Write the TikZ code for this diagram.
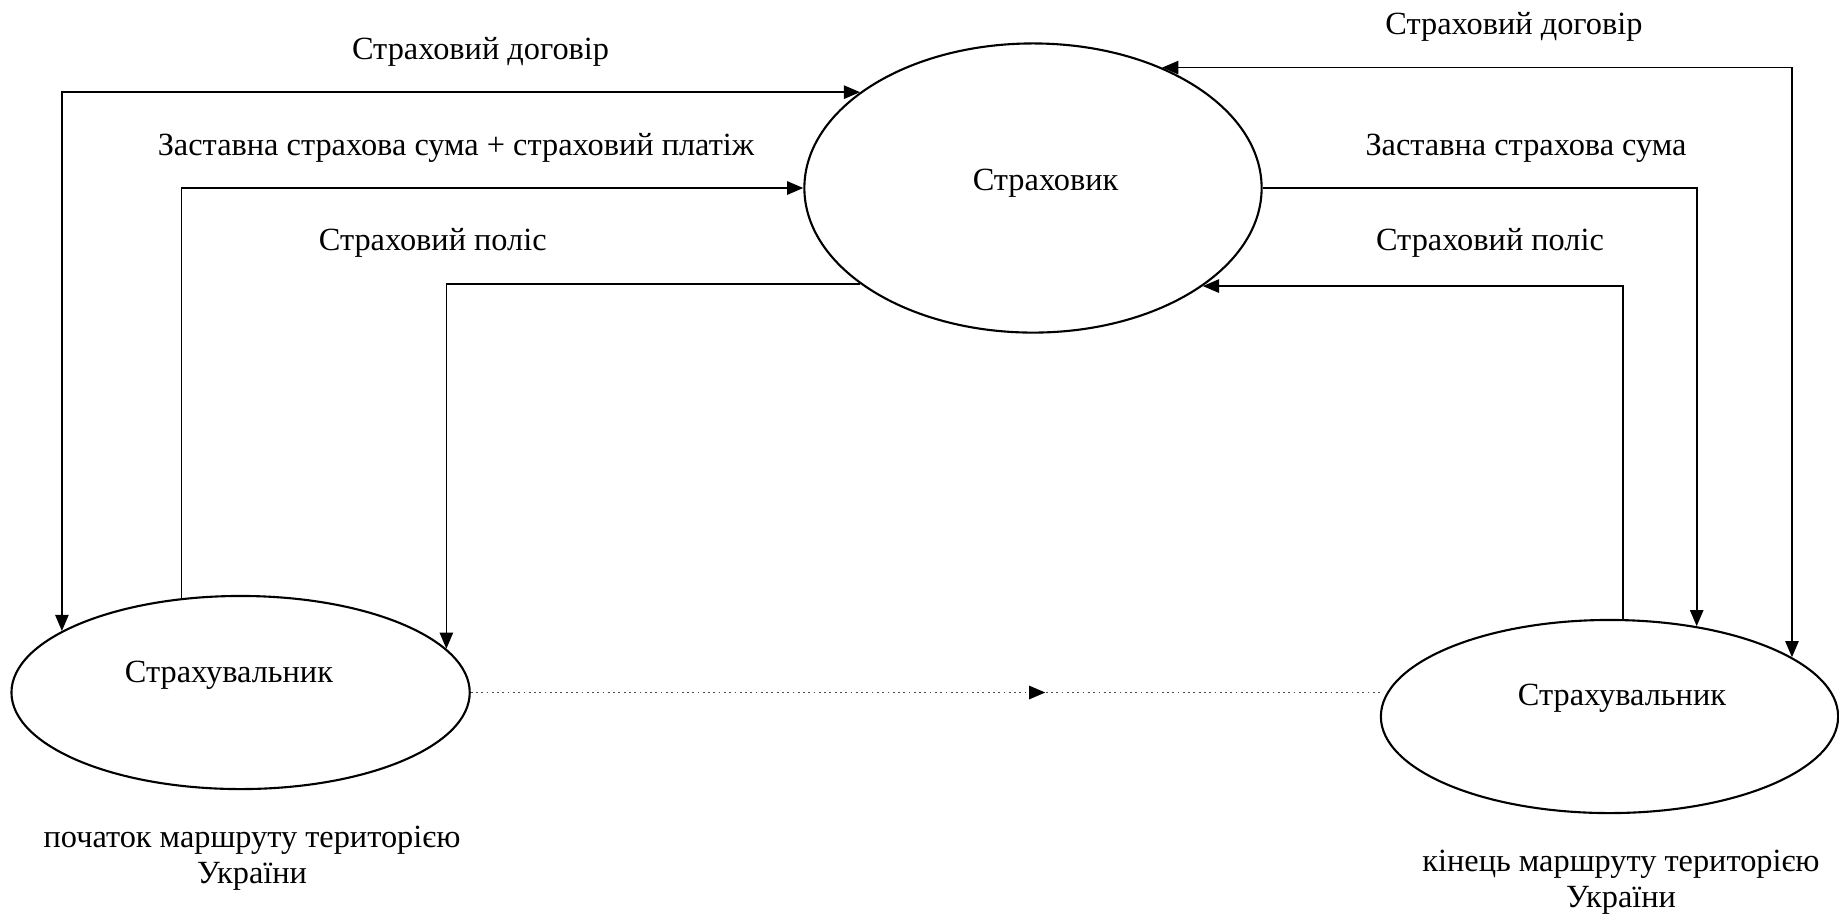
\documentclass[tikz,border=0pt]{standalone}
\usepackage{fontspec}
\setmainfont{Liberation Serif}
\usetikzlibrary{shapes.geometric,arrows.meta,decorations.markings}

\tikzset{
  flowtip/.tip={Triangle[length=4.6pt,width=3.8pt]},
  party/.style={draw, ellipse, line width=0.6pt, inner sep=0pt},
  flow/.style={line width=0.45pt, -flowtip},
  flowboth/.style={line width=0.45pt, flowtip-flowtip},
  caption/.style={font=\fontsize{9.2}{10.2}\selectfont, inner sep=0pt, align=center},
}

\begin{document}
\begin{tikzpicture}[x=0.01cm, y=-0.01cm]
			%%%%% START %%%%%
			\useasboundingbox (0,0) rectangle (1839,920);
			
			% the three parties
			\node[party, minimum width=4.57cm, minimum height=2.89cm] (insurer) at (1033,188) {};
			\node[party, minimum width=4.58cm, minimum height=1.93cm] (startclient) at (240.6,692.5) {};
			\node[party, minimum width=4.57cm, minimum height=1.93cm] (endclient) at (1609.5,716.5) {};
			
			\node[caption] (insurertext) at (1045.6,183) {Страховик};
			\node[caption] (starttext) at (229,675) {Страхувальник};
			\node[caption] (endtext) at (1622,698) {Страхувальник};
			
			\node[caption] (startnote) at (252,858) {початок маршруту територією\\України};
			\node[caption] (endnote) at (1621,882) {кінець маршруту територією\\України};
			
			% left side
			\draw[flowboth] (startclient.161.6) |- (insurer.151);
			\draw[flow] (startclient.122.7) |- (insurer.west);
			\draw[flow] (insurer.209.5) -| (startclient.12.1);
			
			\node[caption] (contractleft) at (480.6,51.7) {Страховий договір};
			\node[caption] (sumleft) at (456,148.3) {Заставна страхова сума + страховий платіж};
			\node[caption] (policyleft) at (432.8,243.3) {Страховий поліс};
			
			% right side
			\draw[flowboth] (endclient.18.2) |- (insurer.43.1);
			\draw[flow] (insurer.east) -| (endclient.46.4);
			\draw[flow] (endclient.82.3) |- (insurer.330.5);
			
			\node[caption] (contractright) at (1514,26.7) {Страховий договір};
			\node[caption] (sumright) at (1526,148.3) {Заставна страхова сума};
			\node[caption] (policyright) at (1490,242.7) {Страховий поліс};
			
			% the route
			\draw[densely dotted, line width=0.5pt, color=black!70, postaction={decorate},
			  decoration={markings, mark=at position 0.632 with {\arrow[black]{flowtip}}}]
			  (startclient.east) -- (startclient.east -| endclient.west);
			%%%%% END %%%%%
\end{tikzpicture}
\end{document}
